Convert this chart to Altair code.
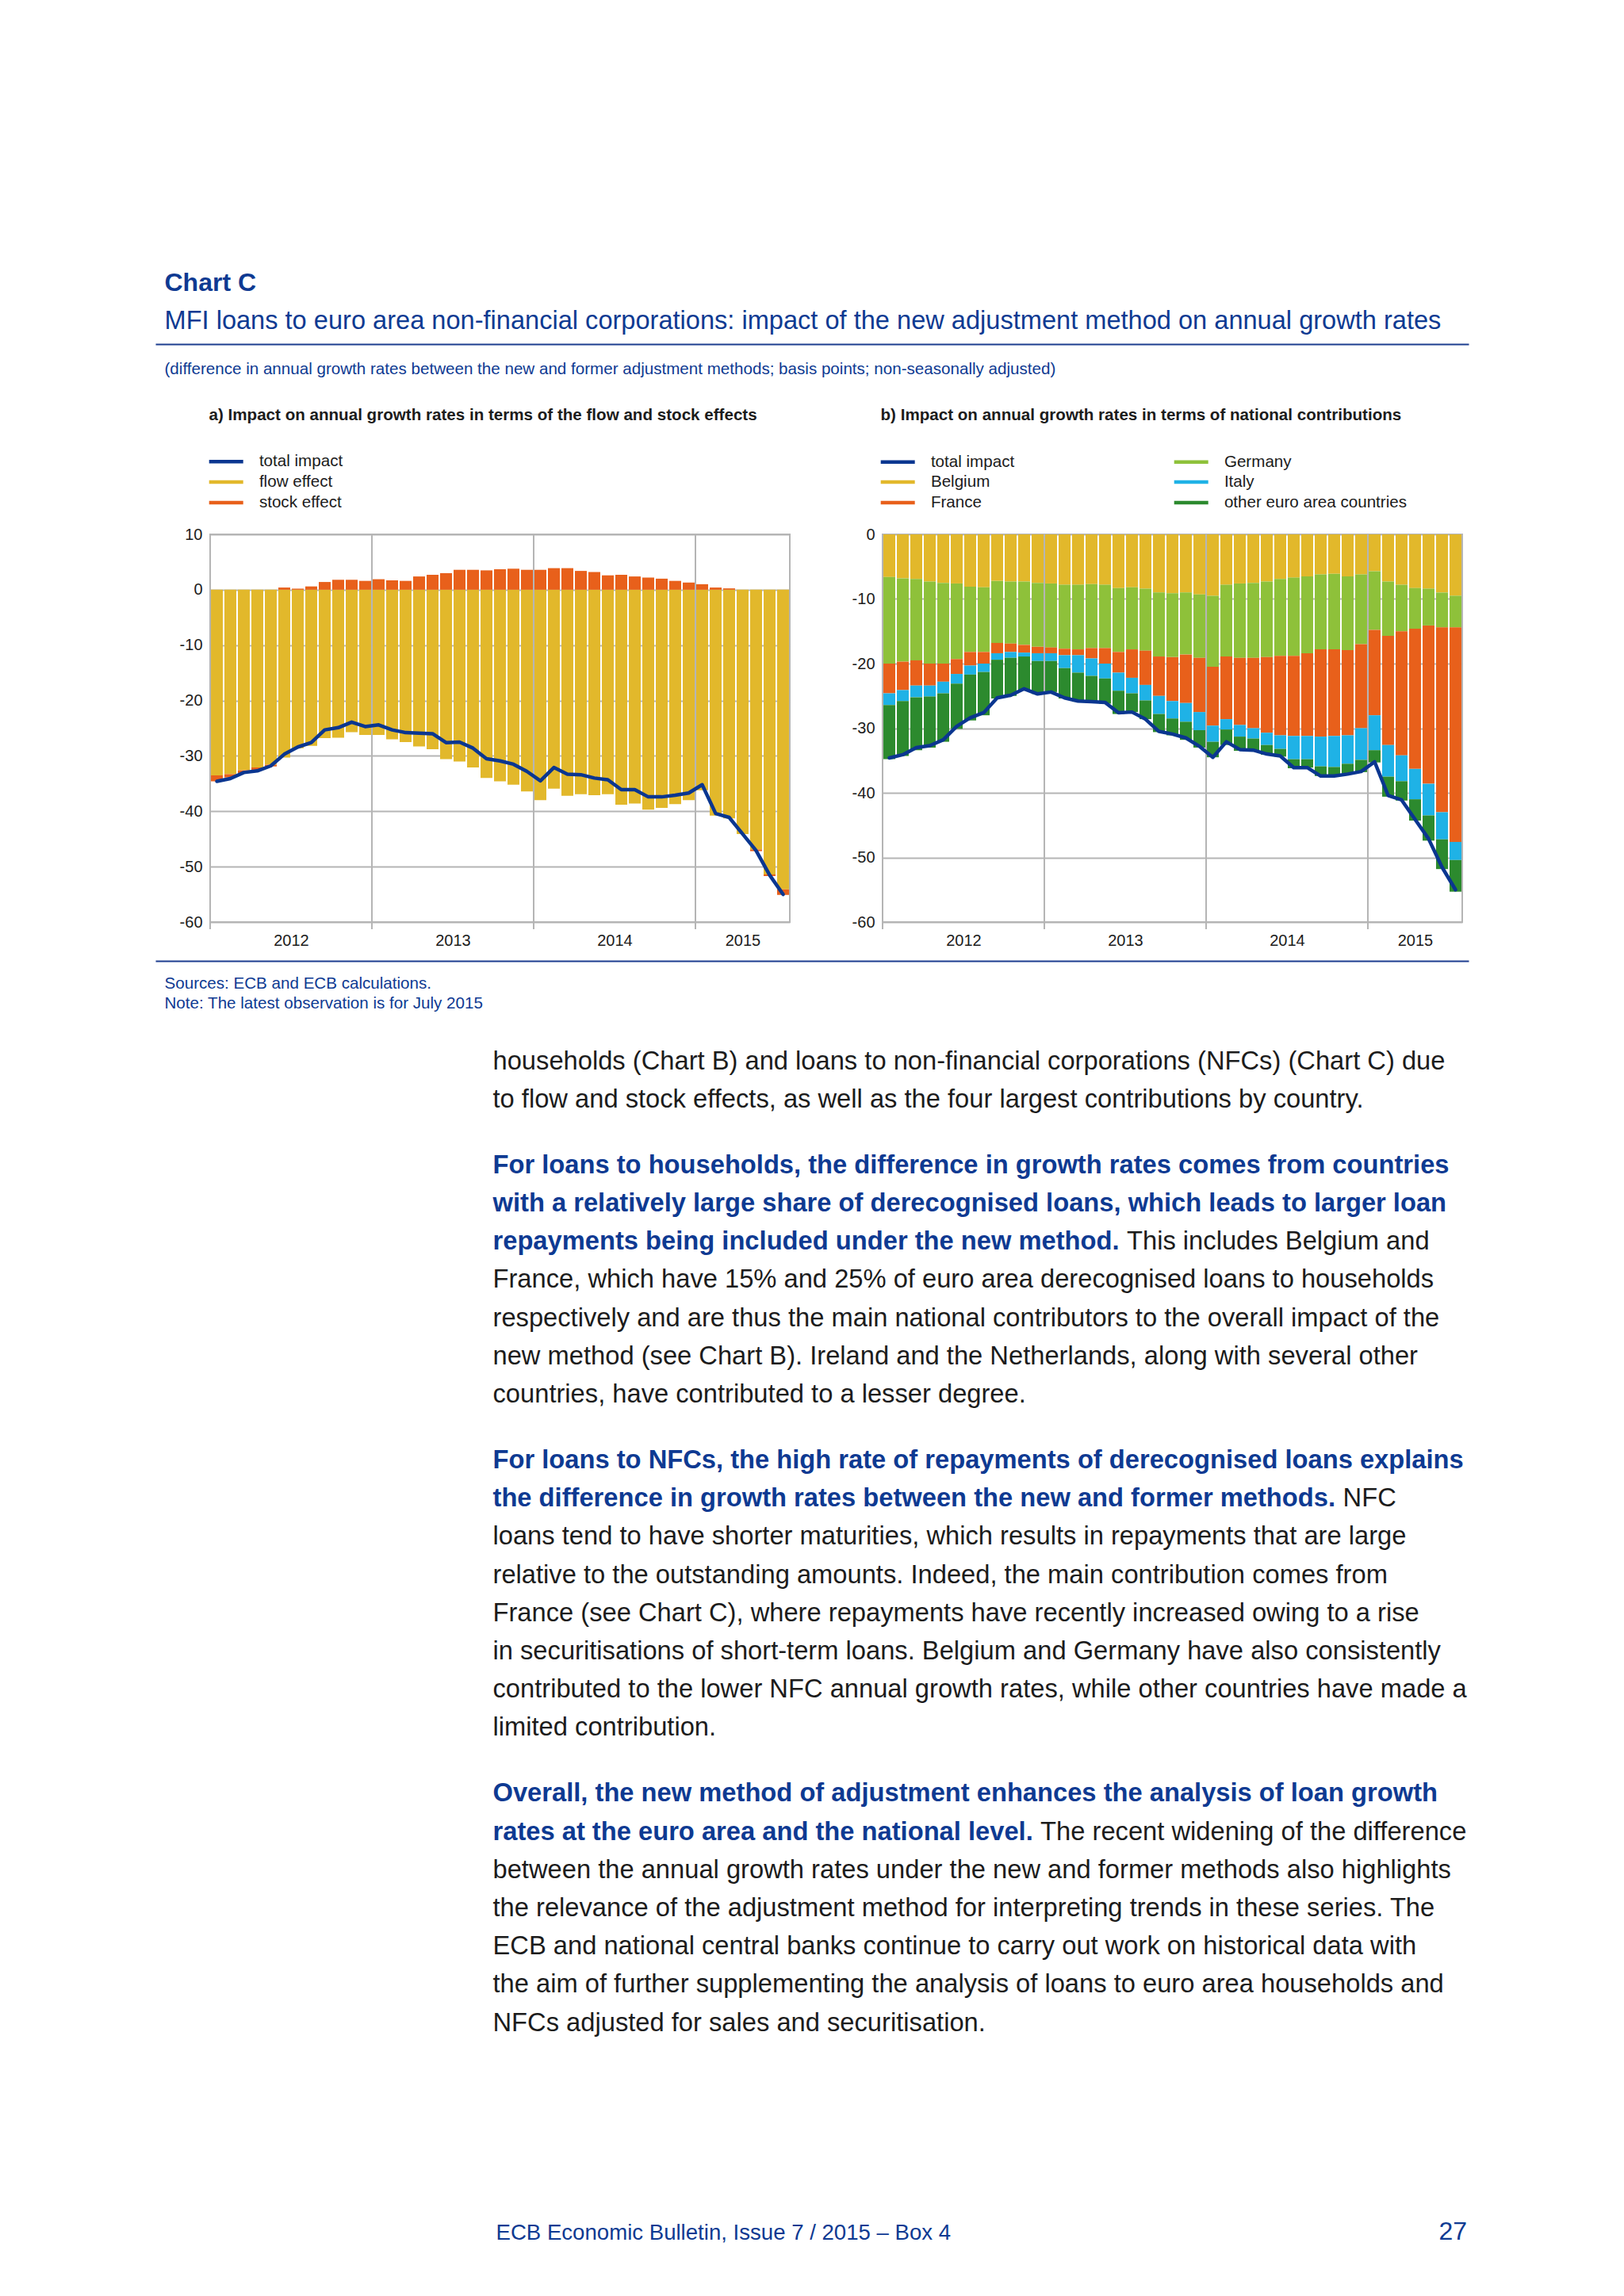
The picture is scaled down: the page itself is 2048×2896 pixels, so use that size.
import altair as alt
import pandas as pd

# ---------------- data (Jan 2012 - Jul 2015, monthly) ----------------
n_months = 43
years = ["2012", "2013", "2014", "2015"]
year_centres = [6, 18, 30, 39.5]
year_bounds = [0, 12, 24, 36]

total_impact = [-34.6, -34.1, -33.0, -32.7, -31.8, -29.7, -28.4, -27.6, -25.3, -24.9,
                -23.9, -24.7, -24.4, -25.3, -25.8, -25.9, -26.0, -27.6, -27.5, -28.6,
                -30.5, -30.9, -31.5, -32.8, -34.5, -32.1, -33.3, -33.4, -34.0, -34.3,
                -36.1, -36.1, -37.4, -37.4, -37.1, -36.7, -35.2, -40.4, -41.1, -44.1,
                -47.1, -51.5, -55.0]
flow_effect = [-33.5, -33.3, -32.6, -32.1, -31.6, -30.3, -28.6, -28.2, -26.8, -26.7,
               -25.7, -26.2, -26.2, -27.0, -27.5, -28.3, -28.8, -30.6, -31.0, -32.1,
               -34.0, -34.6, -35.2, -36.4, -38.0, -35.9, -37.2, -36.9, -37.1, -36.9,
               -38.8, -38.6, -39.7, -39.4, -38.7, -38.0, -36.2, -40.8, -41.3, -44.1,
               -46.9, -51.4, -54.1]
stock_effect = [-1.1, -0.6, -0.5, -0.5, -0.3, 0.4, 0.2, 0.6, 1.4, 1.8,
                1.8, 1.6, 1.9, 1.7, 1.6, 2.4, 2.7, 3.0, 3.6, 3.6,
                3.5, 3.7, 3.8, 3.6, 3.6, 3.9, 3.9, 3.4, 3.2, 2.6,
                2.7, 2.4, 2.2, 2.0, 1.6, 1.3, 1.0, 0.4, 0.25, 0.0,
                -0.3, -0.3, -1.0]

belgium = [-6.6, -6.8, -6.9, -7.3, -7.5, -7.6, -8.1, -8.2, -7.2, -7.3,
           -7.3, -7.5, -7.6, -7.8, -7.8, -7.7, -7.8, -8.3, -8.2, -8.4,
           -9.0, -9.1, -9.0, -9.3, -9.5, -7.8, -7.6, -7.5, -7.3, -6.9,
           -6.7, -6.5, -6.2, -6.1, -6.5, -6.2, -5.7, -7.3, -7.8, -8.3,
           -8.4, -9.0, -9.5]
germany = [-13.4, -12.9, -12.6, -12.7, -12.5, -11.7, -10.1, -10.0, -9.6, -9.6,
           -9.8, -9.9, -9.9, -9.9, -10.0, -9.9, -9.8, -9.9, -9.6, -9.6,
           -9.9, -9.9, -9.6, -9.8, -11.0, -11.1, -11.5, -11.6, -11.7, -11.9,
           -12.1, -11.9, -11.6, -11.7, -11.4, -10.8, -9.1, -8.4, -7.2, -6.3,
           -5.7, -5.4, -4.9]
france = [-4.6, -4.4, -3.9, -3.4, -2.8, -2.3, -2.1, -1.8, -1.6, -1.3,
          -1.2, -1.0, -0.9, -1.0, -0.9, -1.6, -2.4, -3.2, -4.4, -5.3,
          -6.1, -6.8, -7.5, -8.4, -9.1, -9.7, -10.4, -10.9, -11.7, -12.3,
          -12.4, -12.8, -13.5, -13.4, -13.2, -13.0, -13.2, -16.9, -19.2, -21.7,
          -24.5, -28.6, -33.2]
italy = [-1.8, -1.7, -1.8, -1.7, -1.8, -1.5, -1.4, -1.3, -1.0, -0.9,
         -0.6, -1.2, -1.2, -2.0, -2.7, -2.7, -2.3, -2.8, -2.4, -2.4,
         -2.8, -2.7, -2.9, -2.8, -2.5, -1.6, -1.8, -1.6, -1.9, -2.1,
         -3.6, -3.6, -4.6, -4.8, -4.4, -4.9, -5.4, -4.9, -4.0, -4.7,
         -4.9, -4.2, -2.8]
other_countries = [-8.4, -8.5, -8.2, -7.9, -7.5, -7.0, -7.1, -6.7, -6.0, -5.9,
                   -5.2, -5.1, -4.8, -4.7, -4.5, -4.2, -3.9, -3.6, -2.9, -2.9,
                   -2.8, -2.6, -2.8, -2.7, -2.4, -2.4, -2.2, -1.9, -1.5, -1.2,
                   -1.4, -1.3, -1.5, -1.3, -1.5, -1.9, -1.9, -3.1, -3.0, -3.3,
                   -3.9, -4.6, -4.9]

legend_a = ["total impact", "flow effect", "stock effect"]
legend_b = ["total impact", "Belgium", "France", "Germany", "Italy", "other euro area countries"]
y_ticks_a = [10, 0, -10, -20, -30, -40, -50, -60]
y_ticks_b = [0, -10, -20, -30, -40, -50, -60]

chart_label = "Chart C"
chart_title = ("MFI loans to euro area non-financial corporations: impact of the new "
               "adjustment method on annual growth rates")
chart_units = ("(difference in annual growth rates between the new and former adjustment "
               "methods; basis points; non-seasonally adjusted)")
panel_a_title = "a) Impact on annual growth rates in terms of the flow and stock effects"
panel_b_title = "b) Impact on annual growth rates in terms of national contributions"
notes = ["Sources: ECB and ECB calculations.", "Note: The latest observation is for July 2015"]
page_footer = "ECB Economic Bulletin, Issue 7 / 2015 \u2013 Box 4"
page_number = "27"

# body text: list of paragraphs; each line = (bold part, regular part)
paragraphs = [
    [("", "households (Chart B) and loans to non-financial corporations (NFCs) (Chart C) due"),
     ("", "to flow and stock effects, as well as the four largest contributions by country.")],
    [("For loans to households, the difference in growth rates comes from countries", ""),
     ("with a relatively large share of derecognised loans, which leads to larger loan", ""),
     ("repayments being included under the new method.", "This includes Belgium and"),
     ("", "France, which have 15% and 25% of euro area derecognised loans to households"),
     ("", "respectively and are thus the main national contributors to the overall impact of the"),
     ("", "new method (see Chart B). Ireland and the Netherlands, along with several other"),
     ("", "countries, have contributed to a lesser degree.")],
    [("For loans to NFCs, the high rate of repayments of derecognised loans explains", ""),
     ("the difference in growth rates between the new and former methods.", "NFC"),
     ("", "loans tend to have shorter maturities, which results in repayments that are large"),
     ("", "relative to the outstanding amounts. Indeed, the main contribution comes from"),
     ("", "France (see Chart C), where repayments have recently increased owing to a rise"),
     ("", "in securitisations of short-term loans. Belgium and Germany have also consistently"),
     ("", "contributed to the lower NFC annual growth rates, while other countries have made a"),
     ("", "limited contribution.")],
    [("Overall, the new method of adjustment enhances the analysis of loan growth", ""),
     ("rates at the euro area and the national level.", "The recent widening of the difference"),
     ("", "between the annual growth rates under the new and former methods also highlights"),
     ("", "the relevance of the adjustment method for interpreting trends in these series. The"),
     ("", "ECB and national central banks continue to carry out work on historical data with"),
     ("", "the aim of further supplementing the analysis of loans to euro area households and"),
     ("", "NFCs adjusted for sales and securitisation.")],
]

# ---------------- styles ----------------
FONT = "Liberation Sans"
BLUE = "#0e3a92"
TXT = "#1c1c1c"
GRID = "#b5b5b5"
C_LINE = "#0a3690"
C_YEL = "#e2b82b"
C_ORA = "#e8601b"
C_LGR = "#8ec13a"
C_CYA = "#1fb2e6"
C_DGR = "#2c8a2e"
W, H = 731, 489
SMALL = 20.6

# legend swatch: a flat bar 43px long, 4.5px thick, on a 20.6px row
SYM_D = 20.6
SYM = "M-2.087,-0.22L2.087,-0.22L2.087,0.22L-2.087,0.22Z"

BOLD_W = dict(zip("abcdefghijklmnopqrstuvwxyz",
                  [556, 611, 556, 611, 556, 333, 611, 611, 278, 278, 556, 278, 889,
                   611, 611, 611, 611, 389, 556, 333, 611, 556, 778, 556, 556, 500]))
BOLD_W.update({" ": 278, ".": 278, ",": 278})


def bold_width(s, fs):
    return sum(BOLD_W.get(c, 611) for c in s) / 1000.0 * fs


one = alt.Data(values=[{"k": 0}])


def txt(s, x, y, size, color, weight="normal", align="left"):
    return alt.Chart(one).mark_text(
        text=s, font=FONT, fontSize=size, color=color, fontWeight=weight,
        align=align, baseline="alphabetic"
    ).encode(x=alt.value(x), y=alt.value(y))


def hrule(x1, x2, y, color, width=2):
    return alt.Chart(one).mark_rule(color=color, strokeWidth=width).encode(
        x=alt.value(x1), x2=alt.value(x2), y=alt.value(y))


label_expr = " : ".join(
    f"datum.value < {b} ? '{years[k]}'" for k, b in enumerate(year_bounds[1:])
) + f" : '{years[-1]}'"

xs = alt.Scale(domain=[0, n_months], nice=False, zero=False)
xax = alt.Axis(values=year_centres, labelExpr=label_expr, ticks=False, domain=False,
               grid=False, labelFont=FONT, labelFontSize=20, labelColor=TXT,
               labelPadding=13, title=None)


def yaxis(ticks):
    return alt.Axis(values=ticks, grid=True, gridColor=GRID, gridWidth=2, ticks=False,
                    domain=False, labelFont=FONT, labelFontSize=20, labelColor=TXT,
                    labelPadding=10, title=None, labelExpr="'' + datum.value")


def panel(df_bars, domain_y, ticks, color_field, legend_names, legend_colors, legend):
    ys = alt.Scale(domain=domain_y, nice=False, zero=False)
    yax = yaxis(ticks)
    rules = alt.Chart(pd.DataFrame({"b": year_bounds})).mark_rule(
        color=GRID, strokeWidth=2).encode(
        x=alt.X("b:Q", scale=xs, axis=xax), y=alt.value(0), y2=alt.value(H + 9))
    bars = alt.Chart(df_bars).transform_stack(
        stack="value", groupby=["m"], sort=[alt.SortField("ord", order="ascending")],
        as_=["v0", "v1"], offset="zero"
    ).transform_calculate(x0="datum.m + 0.06", x1="datum.m + 0.94").mark_bar(
        strokeWidth=0).encode(
        x=alt.X("x0:Q", scale=xs, axis=xax), x2="x1:Q",
        y=alt.Y("v0:Q", scale=ys, axis=yax), y2="v1:Q",
        color=alt.Color(f"{color_field}:N",
                        scale=alt.Scale(domain=legend_names, range=legend_colors),
                        legend=legend))
    line = alt.Chart(pd.DataFrame({"m": list(range(n_months)), "total": total_impact})
                     ).transform_calculate(xc="datum.m + 0.5").mark_line(
        color=C_LINE, strokeWidth=4.5, strokeJoin="round", strokeCap="round").encode(
        x=alt.X("xc:Q", scale=xs, axis=xax), y=alt.Y("total:Q", scale=ys, axis=yax))
    return [rules, bars, line]


# ---------- panel a ----------
rows_a = []
for i in range(n_months):
    rows_a.append({"m": i, "effect": "flow effect", "value": flow_effect[i], "ord": 0})
    rows_a.append({"m": i, "effect": "stock effect", "value": stock_effect[i], "ord": 1})
df_a = pd.DataFrame(rows_a)

leg_common = dict(orient="none", title=None, symbolType=SYM, symbolSize=SYM_D ** 2,
                  symbolStrokeWidth=0, symbolOffset=11.2, labelFont=FONT,
                  labelFontSize=SMALL, labelColor=TXT, labelOffset=31.2,
                  rowPadding=3.9, padding=0, labelLimit=500)
leg_a = alt.Legend(legendX=-1.5, legendY=-102.3, **leg_common)
layers_a = panel(df_a, [-60, 10], y_ticks_a, "effect", legend_a,
                 [C_LINE, C_YEL, C_ORA], leg_a)

# texts placed relative to panel a's plot origin
X0 = -57.5
texts = [
    # white anchor marking the page's top-left corner
    alt.Chart(one).mark_rule(color="white", strokeWidth=1).encode(
        x=alt.value(-255), x2=alt.value(-254), y=alt.value(-664)),
    txt(chart_label, X0, -307.5, 32, BLUE, "bold"),
    txt(chart_title, X0, -259.5, 32.6, BLUE),
    hrule(-68.5, 1587.5, -239.5, "#1c3d8f"),
    txt(chart_units, X0, -202.5, SMALL, BLUE),
    txt(panel_a_title, -1.5, -144.5, 20.6, TXT, "bold"),
    hrule(-68.5, 1587.5, 538.5, "#1c3d8f"),
    txt(notes[0], X0, 572.5, SMALL, BLUE),
    txt(notes[1], X0, 597.5, SMALL, BLUE),
    txt(page_footer, 360.5, 2150.5, 27.6, BLUE),
    txt(page_number, 1585, 2150.5, 32, BLUE, align="right"),
]

BX = 356.5
FS = 32.7
LH = 48.2
PG = 83
yb = 674.5
for p, para in enumerate(paragraphs):
    for j, (bold, reg) in enumerate(para):
        if bold:
            texts.append(txt(bold, BX, yb, FS, BLUE, "bold"))
        if reg:
            xr = BX + (bold_width(bold, FS) + 0.278 * FS if bold else 0)
            texts.append(txt(reg, xr, yb, FS, TXT))
        if j < len(para) - 1:
            yb += LH
    yb += PG

chart_a = alt.layer(*layers_a, *texts).properties(width=W, height=H)

# ---------- panel b ----------
country_series = [("Belgium", belgium), ("Germany", germany), ("France", france),
                  ("Italy", italy), ("other euro area countries", other_countries)]
rows_b = []
for k, (name, vals) in enumerate(country_series):
    for i in range(n_months):
        rows_b.append({"m": i, "country": name, "value": vals[i], "ord": k})
df_b = pd.DataFrame(rows_b)

leg_b = alt.Legend(legendX=-2.5, legendY=-102.3, columns=2, columnPadding=201,
                   **leg_common)
layers_b = panel(df_b, [-60, 0], y_ticks_b, "country", legend_b,
                 [C_LINE, C_YEL, C_ORA, C_LGR, C_CYA, C_DGR], leg_b)
chart_b = alt.layer(*layers_b, txt(panel_b_title, -2.5, -144.5, 20.6, TXT, "bold")
                    ).properties(width=W, height=H)

chart = alt.hconcat(chart_a, chart_b, spacing=117, bounds="flush").resolve_scale(
    x="independent", y="independent", color="independent"
).resolve_legend(color="independent").properties(
    padding=0, background="white"
).configure_view(stroke=GRID, strokeWidth=2)

chart.save("out.html", embed_options={"renderer": "svg", "actions": False})
